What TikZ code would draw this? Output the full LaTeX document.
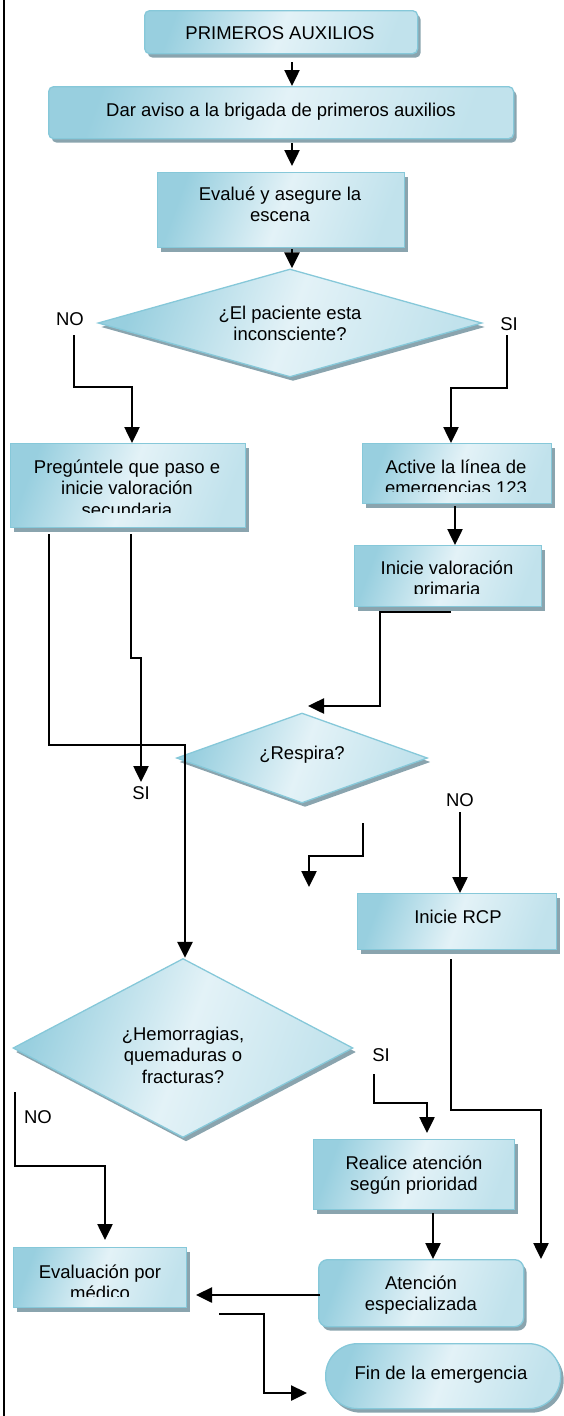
\documentclass[tikz,border=0pt]{standalone}
\usepackage{fontspec}
\setmainfont{Liberation Sans}
\usetikzlibrary{shapes.geometric,arrows.meta,shadows}
\definecolor{bord}{HTML}{86C8D9}
\definecolor{cdark}{HTML}{98CFDF}
\definecolor{clight}{HTML}{E3F2F7}
\definecolor{shad}{HTML}{8AA4AE}
\newcommand{\firstStrut}{\rule{0pt}{15pt}}
\begin{document}
\begin{tikzpicture}[x=1pt,y=-1pt,
  every node/.style={font=\fontsize{18.5}{21.7}\selectfont},
  fillstyle/.style={draw=bord, line width=1.3pt,
    left color=cdark, right color=cdark!45!clight, middle color=clight, shading angle=70,
    drop shadow={shadow xshift=3pt,shadow yshift=-4pt,fill=shad,opacity=1}},
  boxnode/.style={fillstyle, shape=rectangle, inner sep=0pt, anchor=north west},
  dianode/.style={fillstyle, shape=diamond, inner sep=0pt, anchor=center},
  txt/.style={align=center, anchor=north, inner sep=0pt},
  lab/.style={inner sep=0pt},
  arr/.style={line width=2.5pt, -{Triangle[width=15pt,length=16pt]}}]
\useasboundingbox (0,0) rectangle (564,1416);
\draw[line width=2.3pt] (4,0) -- (4,1416);

% boxes
\node[boxnode, rounded corners=5pt, minimum width=273pt, minimum height=43pt] (b1) at (144,10) {};
\node[boxnode, rounded corners=5pt, minimum width=465pt, minimum height=52pt] (b2) at (48,86) {};
\node[boxnode, minimum width=247pt, minimum height=75pt] (b3) at (157,172) {};
\node[dianode, minimum width=384pt, minimum height=108pt] (d1) at (290,323) {};
\node[boxnode, minimum width=235pt, minimum height=84pt] (b4) at (10,443) {};
\node[boxnode, minimum width=189pt, minimum height=60pt] (b5) at (362,443) {};
\node[boxnode, minimum width=187pt, minimum height=61pt] (b6) at (354,545) {};
\node[dianode, minimum width=251pt, minimum height=90pt] (d2) at (302,758) {};
\node[boxnode, minimum width=199pt, minimum height=56pt] (b7) at (357,893) {};
\node[dianode, minimum width=340pt, minimum height=179pt] (d3) at (183,1048) {};
\node[boxnode, minimum width=201pt, minimum height=70pt] (b8) at (313,1139) {};
\node[boxnode, minimum width=173pt, minimum height=60pt] (b9) at (13,1247) {};
\node[boxnode, rounded corners=9pt, minimum width=205pt, minimum height=67pt] (b10) at (318,1259) {};
\node[boxnode, rounded corners=32pt, minimum width=235pt, minimum height=65pt] (b11) at (325,1343) {};

% texts
\node[txt] (t1) at (280,24) {\firstStrut PRIMEROS AUXILIOS};
\node[txt] (t2) at (281,101) {\firstStrut Dar aviso a la brigada de primeros auxilios};
\node[txt] (t3) at (280,185) {\firstStrut Evalué y asegure la\\escena};
\node[txt] (td1) at (290,304) {\firstStrut ¿El paciente esta\\inconsciente?};
\begin{scope}
\clip (10,443) rectangle (245,512);
\node[txt] (t4) at (127,458) {\firstStrut Pregúntele que paso e\\inicie valoración\\secundaria};
\end{scope}
\begin{scope}
\clip (362,443) rectangle (551,491);
\node[txt] (t5) at (456,458) {\firstStrut Active la línea de\\emergencias 123};
\end{scope}
\begin{scope}
\clip (354,545) rectangle (541,593);
\node[txt] (t6) at (447,559) {\firstStrut Inicie valoración\\primaria};
\end{scope}
\node[txt] (td2) at (302,744) {\firstStrut ¿Respira?};
\node[txt] (t7) at (458,908) {\firstStrut Inicie RCP};
\node[txt] (td3) at (183,1025) {\firstStrut ¿Hemorragias,\\quemaduras o\\fracturas?};
\node[txt] (t8) at (414,1154) {\firstStrut Realice atención\\según prioridad};
\begin{scope}
\clip (13,1247) rectangle (186,1296);
\node[txt] (t9) at (100,1263) {\firstStrut Evaluación por\\médico};
\end{scope}
\node[txt] (t10) at (421,1274) {\firstStrut Atención\\especializada};
\node[txt] (t11) at (441,1364) {\firstStrut Fin de la emergencia};

% labels
\node[lab] (lno1) at (70,319) {NO};
\node[lab] (lsi1) at (509,324) {SI};
\node[lab] (lsi2) at (141,793) {SI};
\node[lab] (lno2) at (460,800) {NO};
\node[lab] (lsi3) at (381,1055) {SI};
\node[lab] (lno3) at (38,1117) {NO};

% connector coordinates
\coordinate (a1) at (292,62);
\coordinate (a2) at (292,143);
\coordinate (e2) at (292,166);
\coordinate (a3) at (292,249);
\coordinate (no1) at (74,335);
\coordinate (k4) at (132,387);
\coordinate (si1) at (507,335);
\coordinate (k5) at (451,388);
\coordinate (a6) at (455,506);
\coordinate (a7) at (451,612);
\coordinate (k7) at (380,706);
\coordinate (e7) at (308,706);
\coordinate (a8) at (49,534);
\coordinate (k8) at (185,745);
\coordinate (a9) at (131,534);
\coordinate (k9) at (141,658);
\coordinate (e9) at (141,782);
\coordinate (a10) at (460,812);
\coordinate (a11) at (363,823);
\coordinate (k11) at (309,856);
\coordinate (e11) at (309,887);
\coordinate (a12) at (451,959);
\coordinate (k12) at (541,1110);
\coordinate (a13) at (374,1074);
\coordinate (k13) at (427,1103);
\coordinate (e13) at (427,1133);
\coordinate (a14) at (15,1092);
\coordinate (k14) at (105,1166);
\coordinate (e14) at (105,1240);
\coordinate (a15) at (433,1213);
\coordinate (a16) at (320,1295);
\coordinate (e16) at (196,1295);
\coordinate (a17) at (219,1314);
\coordinate (k17) at (264,1393);
\coordinate (e17) at (307,1393);

% connectors
\draw[arr] (a1) -- (a1 |- b2.north);
\draw[arr] (a2) -- (e2);
\draw[arr] (a3) -- (a3 |- d1.north);
\draw[arr] (no1) |- (k4) -- (k4 |- b4.north);
\draw[arr] (si1) |- (k5) -- (k5 |- b5.north);
\draw[arr] (a6) -- (a6 |- b6.north);
\draw[arr] (a7) -| (k7) -- (e7);
\draw[arr] (a8) |- (k8) -- (k8 |- d3.north);
\draw[arr] (a9) |- (k9) -- (e9);
\draw[arr] (a10) -- (a10 |- b7.north);
\draw[arr] (a11) |- (k11) -- (e11);
\draw[arr] (a12) |- (k12) -- (k12 |- b10.north);
\draw[arr] (a13) |- (k13) -- (e13);
\draw[arr] (a14) |- (k14) -- (e14);
\draw[arr] (a15) -- (a15 |- b10.north);
\draw[arr] (a16) -- (e16);
\draw[arr] (a17) -| (k17) -- (e17);
\end{tikzpicture}
\end{document}
